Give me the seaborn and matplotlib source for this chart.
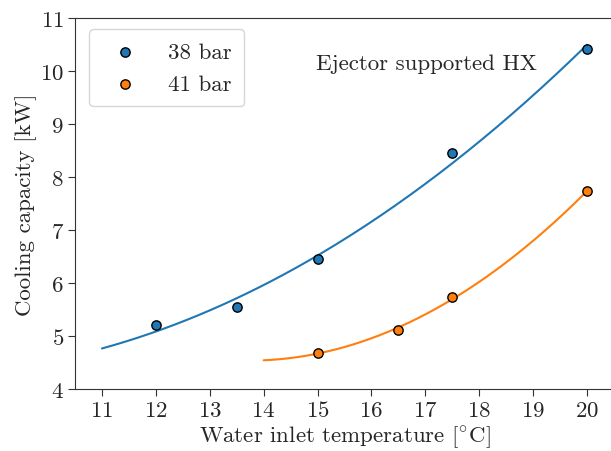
import numpy as np
import pandas as pd
import matplotlib
matplotlib.use("Agg")
import matplotlib.pyplot as plt
import seaborn as sns

sns.set_style("ticks")
plt.rcParams['font.family'] = ['cmr10', 'DejaVu Serif']
plt.rcParams['mathtext.fontset'] = 'cm'
plt.rcParams['axes.formatter.use_mathtext'] = True

# data
t38 = [12.0, 13.5, 15.0, 17.5, 20.0]
q38 = [5.20, 5.55, 6.45, 8.45, 10.42]
t41 = [15.0, 16.5, 17.5, 20.0]
q41 = [4.68, 5.12, 5.73, 7.73]
labels = ["38 bar", "41 bar"]
colors = ["#1f77b4", "#ff7f0e"]
fit_range = [(11.0, 20.0), (14.0, 20.0)]

FS = 16.5
fig = plt.figure(figsize=(6.11, 4.52), dpi=100)
ax = fig.add_axes([75/611, 62/452, 539/611, 371/452])

for t, q, lab, c, (a, b) in zip([t38, t41], [q38, q41], labels, colors, fit_range):
    p = np.polyfit(t, q, 2)
    xs = np.linspace(a, b, 200)
    fit = pd.DataFrame({"x": xs, "y": np.polyval(p, xs)})
    sns.lineplot(data=fit, x="x", y="y", color=c, lw=1.5, ax=ax, legend=False)
for t, q, lab, c in zip([t38, t41], [q38, q41], labels, colors):
    df = pd.DataFrame({"x": t, "y": q})
    sns.scatterplot(data=df, x="x", y="y", color=c, edgecolor="black", linewidth=1.0,
                    s=45, ax=ax, label=lab, zorder=3)

ax.set_xlim(10.5, 20.5)
ax.set_ylim(4, 11)
ax.set_xticks(range(11, 21))
ax.set_yticks(range(4, 12))
ax.tick_params(labelsize=FS, direction="out", length=5, pad=3, color="#333333")
for s in ax.spines.values():
    s.set_edgecolor("#333333")
ax.spines["right"].set_visible(False)
ax.set_xlabel(r"Water inlet temperature [$^{\circ}$C]", fontsize=FS, labelpad=2)
ax.set_ylabel("Cooling capacity [kW]", fontsize=FS, labelpad=2)
ax.text(0.652, 0.879, "Ejector supported HX", transform=ax.transAxes, fontsize=FS,
        ha="center", va="center")
leg = ax.legend(loc="upper left", fontsize=FS, markerscale=1.0, handletextpad=0.9,
                borderpad=0.55, labelspacing=0.5, frameon=True,
                bbox_to_anchor=(0.005, 1.0))
leg.get_frame().set_edgecolor("#cccccc")

fig.savefig("out.png", dpi=100)
